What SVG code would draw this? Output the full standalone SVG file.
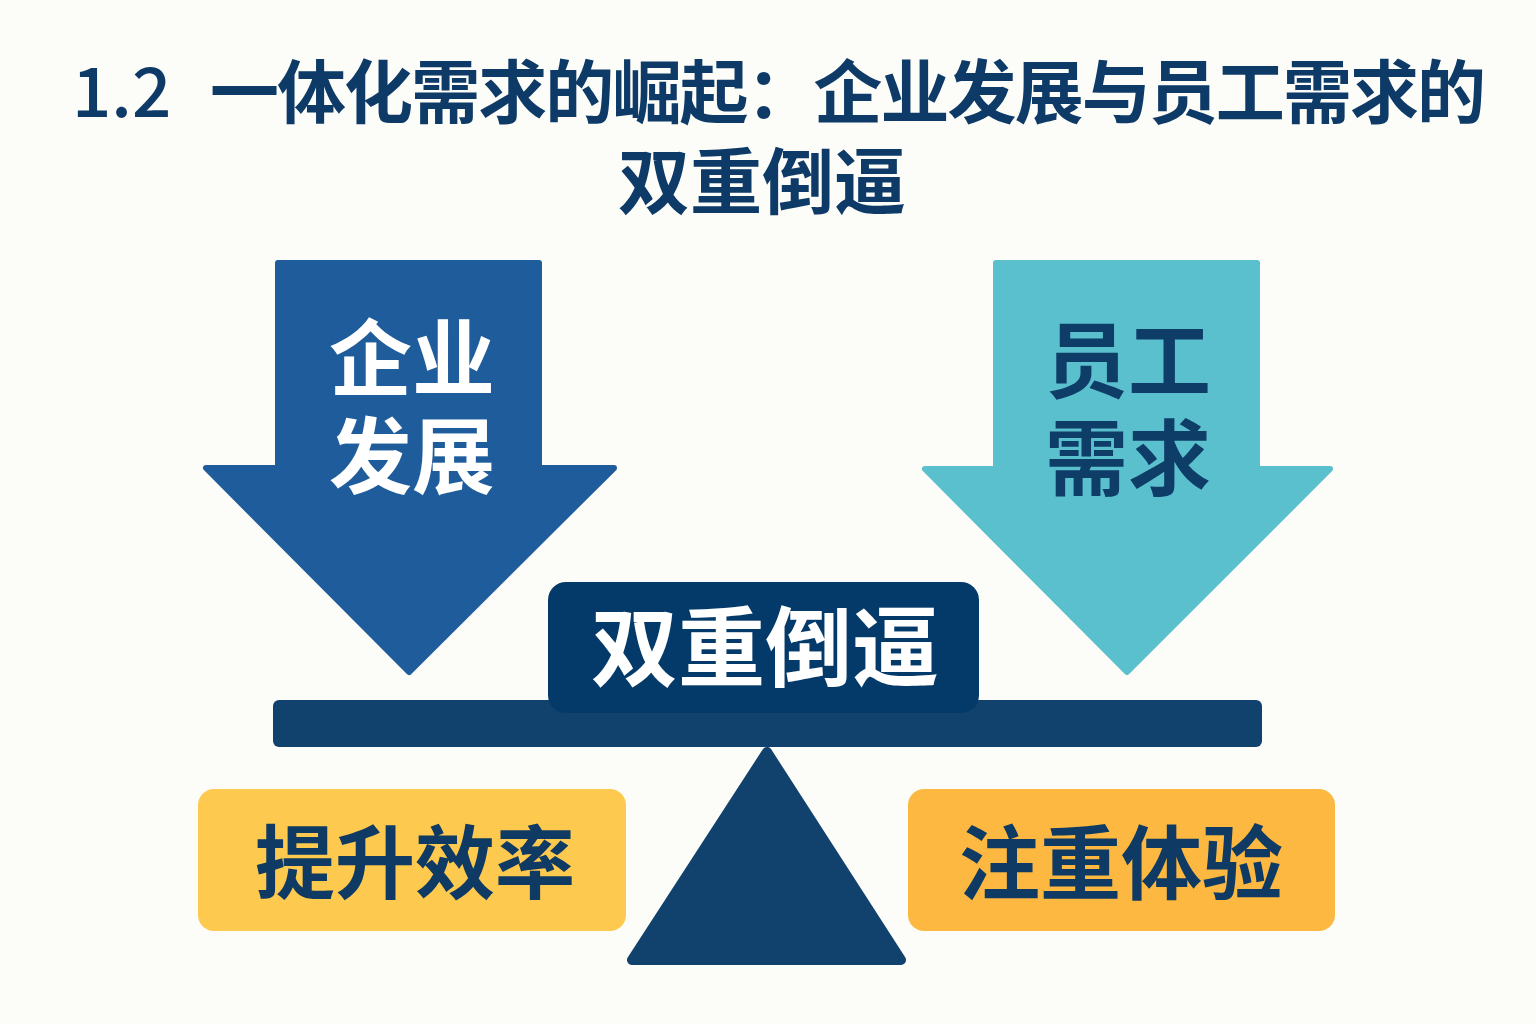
<svg xmlns="http://www.w3.org/2000/svg" width="1536" height="1024" viewBox="0 0 1536 1024">
<style>
.cjk{font-family:"Noto Sans CJK SC","Noto Sans",sans-serif;font-weight:700}
.title{fill:#0D3A66;font-size:69px}
.white{fill:#FFFFFF}
.navy{fill:#0E3A63}
.lbl{font-size:83px;text-anchor:middle}
</style>
<rect width="1536" height="1024" fill="#FCFCF8"/>
<g id="title">
<text class="cjk title" x="72" y="117" style="font-weight:500">1.2</text>
<text class="cjk title" x="210" y="118" textLength="1276" lengthAdjust="spacing">一体化需求的崛起：企业发展与员工需求的</text>
<text class="cjk title" x="762" y="208" text-anchor="middle" style="font-size:72px">双重倒逼</text>
</g>
<g id="enterprise">
<path d="M278,263 L539,263 L539,468 L614,468 L409,672 L206,468 L278,468 Z" fill="#1F5C9C" stroke="#1F5C9C" stroke-width="6" stroke-linejoin="round"/>
<text class="cjk white lbl" x="412" y="389">企业</text>
<text class="cjk white lbl" x="412" y="487">发展</text>
</g>
<g id="employee">
<path d="M996,263 L1257,263 L1257,469 L1330,469 L1127,672 L925,469 L996,469 Z" fill="#5BC0CE" stroke="#5BC0CE" stroke-width="6" stroke-linejoin="round"/>
<text class="cjk lbl" x="1128" y="391" fill="#0E3D68">员工</text>
<text class="cjk lbl" x="1128" y="489" fill="#0E3D68">需求</text>
</g>
<g id="fulcrum">
<path d="M767,752 L632,960 L901,960 Z" fill="#11426D" stroke="#11426D" stroke-width="10" stroke-linejoin="round"/>
</g>
<g id="beam">
<rect x="273" y="700" width="989" height="47" rx="6" fill="#11426D"/>
</g>
<g id="pressure">
<rect x="548" y="582" width="431" height="131" rx="18" fill="#033A69"/>
<text class="cjk white" x="765" y="680" text-anchor="middle" style="font-size:87px">双重倒逼</text>
</g>
<g id="efficiency">
<rect x="198" y="789" width="428" height="142" rx="16" fill="#FDC94E"/>
<text class="cjk navy" x="415" y="892" text-anchor="middle" style="font-size:80px">提升效率</text>
</g>
<g id="experience">
<rect x="908" y="789" width="427" height="142" rx="16" fill="#FCB840"/>
<text class="cjk navy" x="1121" y="893" text-anchor="middle" style="font-size:81px">注重体验</text>
</g>
<g id="connectors"/>
</svg>
